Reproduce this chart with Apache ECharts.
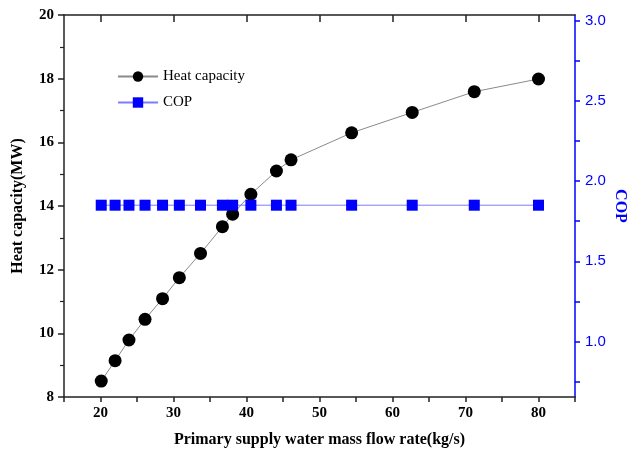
<!DOCTYPE html>
<html>
<head>
<meta charset="utf-8">
<script src="https://cdn.jsdelivr.net/npm/echarts@6/dist/echarts.min.js"></script>
<style>
  html, body { margin: 0; padding: 0; background: #fff; }
  #chart { width: 628px; height: 459px; }
</style>
</head>
<body>
<div id="chart"></div>
<script>
// flow rate (kg/s), shared by both series
var flowRate = [20.1, 22.0, 23.9, 26.1, 28.5, 30.8, 33.7, 36.7, 38.1, 40.6, 44.1, 46.1, 54.4, 62.7, 71.2, 80.0];
var heatCapacity = [8.50, 9.14, 9.79, 10.44, 11.09, 11.75, 12.51, 13.35, 13.74, 14.37, 15.10, 15.45, 16.30, 16.94, 17.59, 17.99];
var cop = [1.85, 1.85, 1.85, 1.85, 1.85, 1.85, 1.85, 1.85, 1.85, 1.85, 1.85, 1.85, 1.85, 1.85, 1.85, 1.85];

var xTicks = [15, 20, 25, 30, 35, 40, 45, 50, 55, 60, 65, 70, 75, 80, 85];
var xLabels = [20, 30, 40, 50, 60, 70, 80];
var copTicks = [0.75, 1.0, 1.25, 1.5, 1.75, 2.0, 2.25, 2.5, 2.75, 3.0];
var copLabels = [1.0, 1.5, 2.0, 2.5, 3.0];

var serif = 'Liberation Serif';
var sans = 'Liberation Sans';

function pairs(xs, ys) {
  return xs.map(function (x, i) { return [x, ys[i]]; });
}

var chart = echarts.init(document.getElementById('chart'));
chart.setOption({
  animation: false,
  backgroundColor: '#fff',
  grid: { left: 64, right: 53, top: 15, bottom: 62, outerBoundsMode: 'none' },
  legend: {
    orient: 'vertical',
    left: 117,
    top: 69,
    padding: 0,
    itemWidth: 40,
    itemHeight: 13,
    itemGap: 11,
    textStyle: { fontFamily: serif, fontSize: 15, color: '#000' },
    data: ['Heat capacity', 'COP']
  },
  xAxis: [{
    type: 'value',
    position: 'bottom',
    min: 15,
    max: 85,
    splitLine: { show: false },
    axisLine: { lineStyle: { color: '#222', width: 1.5 } },
    axisTick: { customValues: xTicks, length: 5, lineStyle: { color: '#222', width: 1.5 } },
    axisLabel: {
      customValues: xLabels,
      margin: 9,
      color: '#000',
      fontFamily: serif,
      fontWeight: 'bold',
      fontSize: 15
    },
    name: 'Primary supply water mass flow rate(kg/s)',
    nameLocation: 'middle',
    nameGap: 35,
    nameTextStyle: { fontFamily: serif, fontWeight: 'bold', fontSize: 16, color: '#000' }
  }, {
    type: 'value',
    position: 'top',
    min: 15,
    max: 85,
    splitLine: { show: false },
    axisLine: { lineStyle: { color: '#222', width: 1.5 } },
    axisTick: { customValues: xLabels, inside: true, length: 7, lineStyle: { color: '#222', width: 1.5 } },
    axisLabel: { show: false }
  }],
  yAxis: [{
    type: 'value',
    position: 'left',
    min: 8,
    max: 20,
    interval: 2,
    splitLine: { show: false },
    axisLine: { show: true, lineStyle: { color: '#222', width: 1.5 } },
    axisTick: { length: 6, lineStyle: { color: '#222', width: 1.5 } },
    minorTick: { show: true, splitNumber: 2, length: 4, lineStyle: { color: '#222', width: 1.2 } },
    axisLabel: { margin: 10, color: '#000', fontFamily: serif, fontWeight: 'bold', fontSize: 15 },
    name: 'Heat capacity(MW)',
    nameLocation: 'middle',
    nameGap: 38,
    nameTextStyle: { fontFamily: serif, fontWeight: 'bold', fontSize: 16, color: '#000' }
  }, {
    type: 'value',
    position: 'right',
    min: 0.654,
    max: 3.036,
    splitLine: { show: false },
    axisLine: { show: true, lineStyle: { color: '#0000ff', width: 1.5 } },
    axisTick: { customValues: copTicks, length: 5, lineStyle: { color: '#0000ff', width: 1.5 } },
    axisLabel: {
      customValues: copLabels,
      margin: 10,
      color: '#0000ff',
      fontFamily: sans,
      fontSize: 15,
      formatter: function (v) { return v.toFixed(1); }
    },
    name: 'COP',
    nameLocation: 'middle',
    nameRotate: -90,
    nameGap: 37,
    nameMoveOverlap: false,
    nameTextStyle: { fontFamily: serif, fontWeight: 'bold', fontSize: 16, color: '#0000ff' }
  }],
  series: [{
    name: 'Heat capacity',
    type: 'line',
    xAxisIndex: 0,
    yAxisIndex: 0,
    data: pairs(flowRate, heatCapacity),
    symbol: 'circle',
    symbolSize: 13,
    itemStyle: { color: '#000' },
    lineStyle: { color: '#8a8a8a', width: 1 }
  }, {
    name: 'COP',
    type: 'line',
    xAxisIndex: 0,
    yAxisIndex: 1,
    data: pairs(flowRate, cop),
    symbol: 'rect',
    symbolSize: 11,
    itemStyle: { color: '#0000ff' },
    lineStyle: { color: '#7c7cff', width: 1 }
  }]
});
</script>
</body>
</html>
